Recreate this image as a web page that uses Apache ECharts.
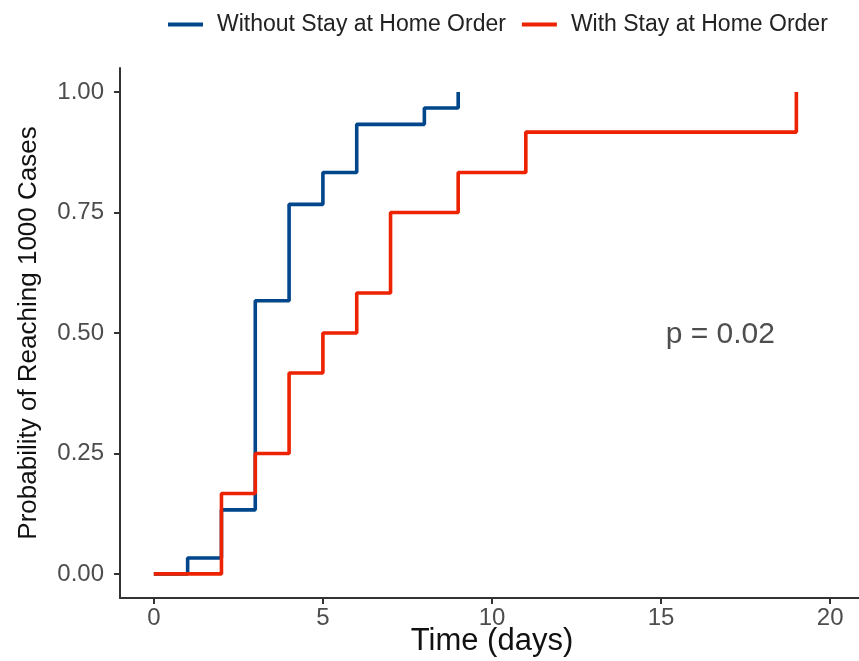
<!DOCTYPE html>
<html>
<head>
<meta charset="utf-8">
<script src="https://cdn.jsdelivr.net/npm/echarts@6/dist/echarts.min.js"></script>
<style>
html,body{margin:0;padding:0;background:#fff;}
#chart{width:859px;height:661px;}
</style>
</head>
<body>
<div id="chart"></div>
<script>
// Kaplan-Meier style cumulative curves (time in days, probability)
var withoutTimes = [0, 1, 2, 3, 4, 5, 6, 8, 9];
var withoutProb  = [0, 0.033, 0.133, 0.567, 0.767, 0.833, 0.933, 0.967, 1.0];
var withTimes = [0, 2, 3, 4, 5, 6, 7, 9, 11, 19];
var withProb  = [0, 0.167, 0.25, 0.417, 0.5, 0.583, 0.75, 0.833, 0.917, 1.0];
var xTicks = [0, 5, 10, 15, 20];
var yTicks = [0, 0.25, 0.5, 0.75, 1.0];
var seriesNames = ['Without Stay at Home Order', 'With Stay at Home Order'];
var pLabel = 'p = 0.02';
var pPos = [16.75, 0.497];

function pairs(xs, ys) { return xs.map(function (x, i) { return [x, ys[i]]; }); }

var FONT = '"Liberation Sans", Arial, sans-serif';
var chart = echarts.init(document.getElementById('chart'), null, {renderer: 'canvas'});
chart.setOption({
  animation: false,
  backgroundColor: '#ffffff',
  legend: {
    data: seriesNames,
    top: 8,
    left: 163,
    icon: 'rect',
    itemWidth: 35,
    itemHeight: 4,
    itemGap: 16,
    textStyle: {fontFamily: FONT, fontSize: 23, color: '#222', padding: [0, 0, 0, 9]}
  },
  grid: {left: 120, right: -5, top: 68, bottom: 63, containLabel: false, outerBoundsMode: 'none'},
  xAxis: {
    type: 'value', min: -1, max: 21,
    name: 'Time (days)', nameLocation: 'middle', nameGap: 28, nameMoveOverlap: false,
    nameTextStyle: {fontFamily: FONT, fontSize: 31, color: '#111'},
    axisLine: {show: true, onZero: false, lineStyle: {color: '#333', width: 2}},
    axisTick: {show: true, length: 6, lineStyle: {color: '#333', width: 2}, customValues: xTicks},
    axisLabel: {fontFamily: FONT, fontSize: 24, color: '#4d4d4d', margin: 8, customValues: xTicks},
    splitLine: {show: false}
  },
  yAxis: {
    type: 'value', min: -0.05, max: 1.05,
    name: 'Probability of Reaching 1000 Cases', nameLocation: 'middle', nameGap: 78, nameMoveOverlap: false,
    nameTextStyle: {fontFamily: FONT, fontSize: 26, color: '#111'},
    axisLine: {show: true, onZero: false, lineStyle: {color: '#333', width: 2}},
    axisTick: {show: true, length: 6, lineStyle: {color: '#333', width: 2}, customValues: yTicks},
    axisLabel: {fontFamily: FONT, fontSize: 24, color: '#4d4d4d', margin: 16, customValues: yTicks,
      formatter: function (v) { return v.toFixed(2); }},
    splitLine: {show: false}
  },
  series: [
    {
      name: seriesNames[0], type: 'line', step: 'end', showSymbol: false, symbol: 'none',
      data: pairs(withoutTimes, withoutProb),
      color: '#00468B',
      lineStyle: {width: 3.6, color: '#00468B'}, z: 2
    },
    {
      name: seriesNames[1], type: 'line', step: 'end', showSymbol: false, symbol: 'none',
      data: pairs(withTimes, withProb),
      color: '#ED2200',
      lineStyle: {width: 3.6, color: '#ED2200'}, z: 3
    },
    {
      name: 'pval', type: 'scatter', symbolSize: 0, silent: true,
      data: [pPos],
      label: {show: true, position: 'inside', formatter: pLabel,
        fontFamily: FONT, fontSize: 30, color: '#222'}
    }
  ]
});
</script>
</body>
</html>
